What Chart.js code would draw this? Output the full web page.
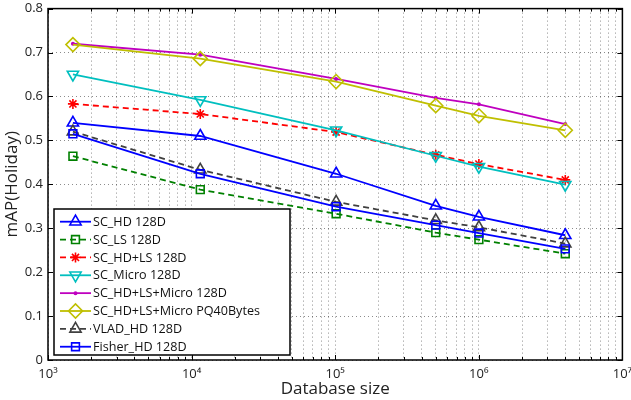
<!DOCTYPE html>
<html>
<head>
<meta charset="utf-8">
<script src="https://cdn.jsdelivr.net/npm/chart.js@4"></script>
<style>html,body{margin:0;padding:0;background:#fff;}canvas{display:block;}</style>
</head>
<body>
<canvas id="c" width="631" height="400"></canvas>
<script>
const dbSizes = [1491, 11491, 101491, 501491, 1001491, 4001491];
const scHD = [0.540, 0.510, 0.424, 0.351, 0.326, 0.284];
const scLS = [0.464, 0.388, 0.333, 0.290, 0.274, 0.242];
const scHDLS = [0.583, 0.560, 0.519, 0.467, 0.446, 0.410];
const scMicro = [0.650, 0.592, 0.523, 0.465, 0.440, 0.399];
const scAll = [0.720, 0.695, 0.640, 0.597, 0.582, 0.537];
const scAllPQ = [0.718, 0.686, 0.634, 0.579, 0.556, 0.523];
const vladHD = [0.520, 0.433, 0.360, 0.318, 0.302, 0.265];
const fisherHD = [0.515, 0.424, 0.349, 0.307, 0.289, 0.253];
const seriesNames = ['SC_HD 128D','SC_LS 128D','SC_HD+LS 128D','SC_Micro 128D','SC_HD+LS+Micro 128D','SC_HD+LS+Micro PQ40Bytes','VLAD_HD 128D','Fisher_HD 128D'];
const yTicks = [0, 0.1, 0.2, 0.3, 0.4, 0.5, 0.6, 0.7, 0.8];
const xDecades = [3, 4, 5, 6, 7];
const supers = {'3':'³','4':'⁴','5':'⁵','6':'⁶','7':'⁷'};

const FONT = 'Open Sans';
function pts(arr){ return arr.map((v,i)=>({x: dbSizes[i], y: v})); }

const styles = [
  {c:'#0000ff', dash:[], ps:'triangle', r:6.5, rot:0},
  {c:'#008000', dash:[6,4], ps:'rect', r:5.5, rot:0},
  {c:'#ff0000', dash:[6,4], ps:'star', r:5, rot:0},
  {c:'#00bfbf', dash:[], ps:'triangle', r:6.5, rot:180},
  {c:'#bf00bf', dash:[], ps:'circle', r:1.2, rot:0, fill:true},
  {c:'#bfbf00', dash:[], ps:'rectRot', r:7, rot:0},
  {c:'#404040', dash:[6,4], ps:'triangle', r:6.5, rot:0},
  {c:'#0000ff', dash:[], ps:'rect', r:5.5, rot:0}
];
const allData = [scHD, scLS, scHDLS, scMicro, scAll, scAllPQ, vladHD, fisherHD];

const datasets = allData.map((d,i)=>{
  const s = styles[i];
  return {
    label: seriesNames[i],
    data: pts(d),
    borderColor: s.c,
    borderWidth: 1.8,
    borderDash: s.dash,
    pointStyle: s.ps,
    pointRadius: s.r,
    pointRotation: s.rot,
    pointBorderColor: s.c,
    pointBorderWidth: 1.6,
    pointBackgroundColor: s.fill ? s.c : 'rgba(0,0,0,0)',
    fill: false,
    tension: 0,
    clip: false,
    order: allData.length - i
  };
});

const framePlugin = {
  id: 'frame',
  afterDatasetsDraw(chart) {
    const ctx = chart.ctx, a = chart.chartArea;
    const xs = chart.scales.x, ys = chart.scales.y;
    ctx.save();
    ctx.strokeStyle = '#000';
    ctx.lineWidth = 1;
    ctx.beginPath();
    yTicks.forEach(v=>{
      const y = Math.round(ys.getPixelForValue(v)) + 0.5;
      ctx.moveTo(a.left, y); ctx.lineTo(a.left + 5, y);
      ctx.moveTo(a.right, y); ctx.lineTo(a.right - 5, y);
    });
    xs.ticks.forEach(t=>{
      const x = Math.round(xs.getPixelForValue(t.value)) + 0.5;
      const major = Math.abs(Math.log10(t.value) - Math.round(Math.log10(t.value))) < 1e-9;
      const L = major ? 5 : 3;
      ctx.moveTo(x, a.bottom); ctx.lineTo(x, a.bottom - L);
      ctx.moveTo(x, a.top); ctx.lineTo(x, a.top + L);
    });
    ctx.stroke();
    ctx.lineWidth = 1.5;
    ctx.strokeRect(a.left, a.top, a.right - a.left, a.bottom - a.top);
    ctx.restore();
  },
  afterDraw(chart) {
    const ctx = chart.ctx;
    const bx = 54, by = 209, bw = 236, bh = 146;
    ctx.save();
    ctx.fillStyle = '#fff';
    ctx.fillRect(bx, by, bw, bh);
    ctx.strokeStyle = '#000';
    ctx.lineWidth = 1.5;
    ctx.strokeRect(bx, by, bw, bh);
    chart.data.datasets.forEach((ds, i)=>{
      const y = 221.7 + i * 17.86;
      ctx.save();
      ctx.strokeStyle = ds.borderColor;
      ctx.lineWidth = ds.borderWidth;
      ctx.setLineDash(ds.borderDash);
      ctx.beginPath();
      ctx.moveTo(60, y); ctx.lineTo(91, y);
      ctx.stroke();
      ctx.setLineDash([]);
      ctx.fillStyle = ds.pointBackgroundColor;
      ctx.strokeStyle = ds.pointBorderColor;
      ctx.lineWidth = ds.pointBorderWidth;
      Chart.helpers.drawPoint(ctx, {pointStyle: ds.pointStyle, radius: ds.pointRadius, rotation: ds.pointRotation, borderWidth: ds.pointBorderWidth}, 75.5, y);
      ctx.restore();
      ctx.fillStyle = '#111';
      ctx.font = '12.6px "' + FONT + '"';
      ctx.textBaseline = 'middle';
      ctx.textAlign = 'left';
      ctx.fillText(ds.label, 93, y + 0.5);
    });
    ctx.restore();
  }
};

new Chart(document.getElementById('c'), {
  type: 'line',
  data: { datasets },
  options: {
    responsive: false,
    animation: false,
    devicePixelRatio: 1,
    layout: { padding: { top: 7, right: 7, left: 0, bottom: 0 } },
    plugins: { legend: { display: false }, tooltip: { enabled: false } },
    scales: {
      x: {
        type: 'logarithmic',
        min: 1000, max: 1e7,
        afterBuildTicks(scale) {
          const t = [];
          for (let e = 3; e <= 7; e++) {
            for (let k = 1; k <= 9; k++) {
              const v = k * Math.pow(10, e);
              if (v <= 1e7) t.push({ value: v });
            }
          }
          scale.ticks = t;
        },
        afterFit(scale) { scale.height = 40; scale.paddingRight = 0; scale.paddingLeft = 0; },
        ticks: {
          autoSkip: false, maxRotation: 0, padding: 6,
          color: '#222',
          font: { family: FONT, size: 13 },
          callback(v) {
            const e = Math.log10(v);
            if (Math.abs(e - Math.round(e)) < 1e-9 && xDecades.includes(Math.round(e))) {
              return '10' + supers[String(Math.round(e))];
            }
            return '';
          }
        },
        grid: { color: 'rgba(0,0,0,0.45)', lineWidth: 1, drawTicks: false },
        border: { display: false, dash: [1, 3] },
        title: { display: true, text: 'Database size', color: '#222', font: { family: FONT, size: 17 }, padding: { top: 0, bottom: 1 } }
      },
      y: {
        min: 0, max: 0.8,
        afterBuildTicks(scale) { scale.ticks = yTicks.map(v=>({ value: v })); },
        afterFit(scale) { scale.width = 48; scale.paddingTop = 0; scale.paddingBottom = 0; },
        ticks: {
          padding: 5,
          color: '#222',
          font: { family: FONT, size: 13 },
          callback(v) { return v === 0 ? '0' : Number(v).toFixed(1); }
        },
        grid: { color: 'rgba(0,0,0,0.45)', lineWidth: 1, drawTicks: false },
        border: { display: false, dash: [1, 3] },
        title: { display: true, text: 'mAP(Holiday)', color: '#222', font: { family: FONT, size: 17 }, padding: { top: 2, bottom: 0 } }
      }
    }
  },
  plugins: [framePlugin]
});
</script>
</body>
</html>
